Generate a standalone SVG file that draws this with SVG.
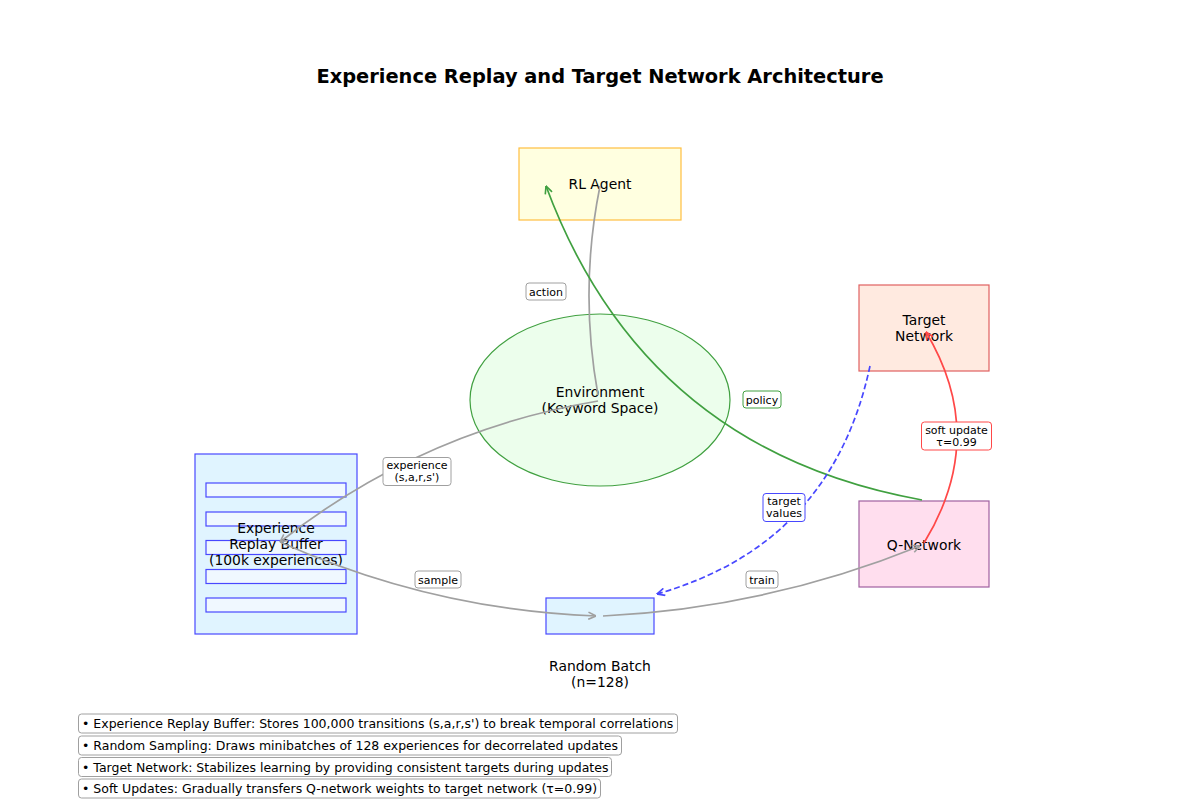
<svg xmlns="http://www.w3.org/2000/svg" width="1200" height="800" viewBox="0 0 1200 800">
<style>
text{font-family:"DejaVu Sans","Liberation Sans",sans-serif;fill:#000;}
.title{font-size:19.4px;font-weight:bold;text-anchor:middle;}
.node{font-size:13.9px;text-anchor:middle;}
.lbl{font-size:11px;text-anchor:middle;}
.note{font-size:12.5px;}
.lb{fill:#fff;stroke-width:1;}
.conn{fill:none;stroke-width:1.7;}
.gray{stroke:#a0a0a0;}
.green{stroke:#40a040;}
.blue{stroke:#4848ff;}
.red{stroke:#ff4848;}
.slot{fill:#f0f8ff;stroke:#4848ff;stroke-width:1.2;}
</style>
<defs>
<marker id="ag" viewBox="0 0 10 10" refX="9.5" refY="5" markerWidth="9" markerHeight="9" markerUnits="userSpaceOnUse" orient="auto"><path d="M1,1 L9.5,5 L1,9" fill="none" stroke="#a0a0a0" stroke-width="1.8"/></marker>
<marker id="agr" viewBox="0 0 10 10" refX="9.5" refY="5" markerWidth="9" markerHeight="9" markerUnits="userSpaceOnUse" orient="auto"><path d="M1,1 L9.5,5 L1,9" fill="none" stroke="#40a040" stroke-width="1.8"/></marker>
<marker id="ab" viewBox="0 0 10 10" refX="9.5" refY="5" markerWidth="9" markerHeight="9" markerUnits="userSpaceOnUse" orient="auto"><path d="M1,1 L9.5,5 L1,9" fill="none" stroke="#4848ff" stroke-width="1.8"/></marker>
<marker id="ar" viewBox="0 0 10 10" refX="9.5" refY="5" markerWidth="9" markerHeight="9" markerUnits="userSpaceOnUse" orient="auto"><path d="M1,1 L9.5,5 L1,9" fill="none" stroke="#ff4848" stroke-width="1.8"/></marker>
</defs>
<rect width="1200" height="800" fill="#fff"/>
<text class="title" x="600" y="83">Experience Replay and Target Network Architecture</text>

<g id="rl-agent">
<rect x="519" y="148" width="162" height="72" fill="#ffffe0" stroke="#ffbf40" stroke-width="1.2"/>
<text class="node" x="600" y="189">RL Agent</text>
</g>
<g id="environment">
<ellipse cx="600" cy="400" rx="130" ry="86" fill="#ecfeec" stroke="#40a040" stroke-width="1.2"/>
<text class="node" x="600" y="397">Environment</text>
<text class="node" x="600" y="413">(Keyword Space)</text>
</g>
<g id="target-network">
<rect x="859" y="285" width="130" height="86" fill="#ffeae0" stroke="#e06060" stroke-width="1.2"/>
<text class="node" x="924" y="325">Target</text>
<text class="node" x="924" y="341">Network</text>
</g>
<g id="q-network">
<rect x="859" y="501" width="130" height="86" fill="#ffdeee" stroke="#a060a0" stroke-width="1.2"/>
<text class="node" x="924" y="550">Q-Network</text>
</g>
<g id="replay-buffer">
<rect x="195" y="454" width="162" height="180" fill="#e0f4ff" stroke="#4848ff" stroke-width="1.2"/>
<rect class="slot" x="206" y="483" width="140" height="14"/>
<rect class="slot" x="206" y="512" width="140" height="14"/>
<rect class="slot" x="206" y="540.5" width="140" height="14"/>
<rect class="slot" x="206" y="569.5" width="140" height="14"/>
<rect class="slot" x="206" y="598" width="140" height="14"/>
<text class="node" x="276" y="533">Experience</text>
<text class="node" x="276" y="549">Replay Buffer</text>
<text class="node" x="276" y="565">(100k experiences)</text>
</g>
<g id="random-batch">
<rect x="546" y="598" width="108" height="36" fill="#e0f4ff" stroke="#4848ff" stroke-width="1.2"/>
<text class="node" x="600" y="671">Random Batch</text>
<text class="node" x="600" y="687">(n=128)</text>
</g>

<g id="connectors">
<path class="conn gray" d="M598,395 Q579,290 600,186"/>
<path class="conn gray" d="M598,401 Q421,431 280,542" marker-end="url(#ag)"/>
<path class="conn gray" d="M280,542 Q432,610 596,616" marker-end="url(#ag)"/>
<path class="conn gray" d="M603,616 Q767,608 920,546" marker-end="url(#ag)"/>
<path class="conn green" d="M922,500 Q644,450 546,186" marker-end="url(#agr)"/>
<path class="conn blue" stroke-dasharray="6,3" d="M870,366 Q832,544 657,594" marker-end="url(#ab)"/>
<path class="conn red" d="M924,543 Q989,437 926,332" marker-end="url(#ar)"/>

<g id="label-action"><rect class="lb" x="526" y="283" width="40" height="17" rx="3" stroke="#a0a0a0"/><text class="lbl" x="546" y="295.5">action</text></g>
<g id="label-experience"><rect class="lb" x="383" y="457.5" width="68" height="28" rx="3" stroke="#a0a0a0"/><text class="lbl" x="417" y="469">experience</text><text class="lbl" x="417" y="481">(s,a,r,s')</text></g>
<g id="label-sample"><rect class="lb" x="415" y="571" width="46" height="17" rx="3" stroke="#a0a0a0"/><text class="lbl" x="438" y="583.5">sample</text></g>
<g id="label-train"><rect class="lb" x="746" y="571" width="32" height="17" rx="3" stroke="#a0a0a0"/><text class="lbl" x="762" y="583.5">train</text></g>
<g id="label-policy"><rect class="lb" x="743" y="391" width="38" height="17" rx="3" stroke="#40a040"/><text class="lbl" x="762" y="403.5">policy</text></g>
<g id="label-target"><rect class="lb" x="763" y="493.5" width="42" height="28" rx="3" stroke="#4848ff"/><text class="lbl" x="784" y="505">target</text><text class="lbl" x="784" y="517">values</text></g>
<g id="label-soft"><rect class="lb" x="921.5" y="422" width="70" height="28" rx="3" stroke="#ff4848"/><text class="lbl" x="956.5" y="433.5">soft update</text><text class="lbl" x="956.5" y="445.5">τ=0.99</text></g>
</g>

<g id="notes">
<rect class="lb" x="78.5" y="714" width="599" height="19" rx="3" stroke="#a0a0a0"/>
<text class="note" x="82" y="728">• Experience Replay Buffer: Stores 100,000 transitions (s,a,r,s') to break temporal correlations</text>
<rect class="lb" x="78.5" y="736" width="543" height="19" rx="3" stroke="#a0a0a0"/>
<text class="note" x="82" y="750">• Random Sampling: Draws minibatches of 128 experiences for decorrelated updates</text>
<rect class="lb" x="78.5" y="757.5" width="533" height="19" rx="3" stroke="#a0a0a0"/>
<text class="note" x="82" y="771.5">• Target Network: Stabilizes learning by providing consistent targets during updates</text>
<rect class="lb" x="78.5" y="779" width="522" height="19" rx="3" stroke="#a0a0a0"/>
<text class="note" x="82" y="793">• Soft Updates: Gradually transfers Q-network weights to target network (τ=0.99)</text>
</g>
</svg>
